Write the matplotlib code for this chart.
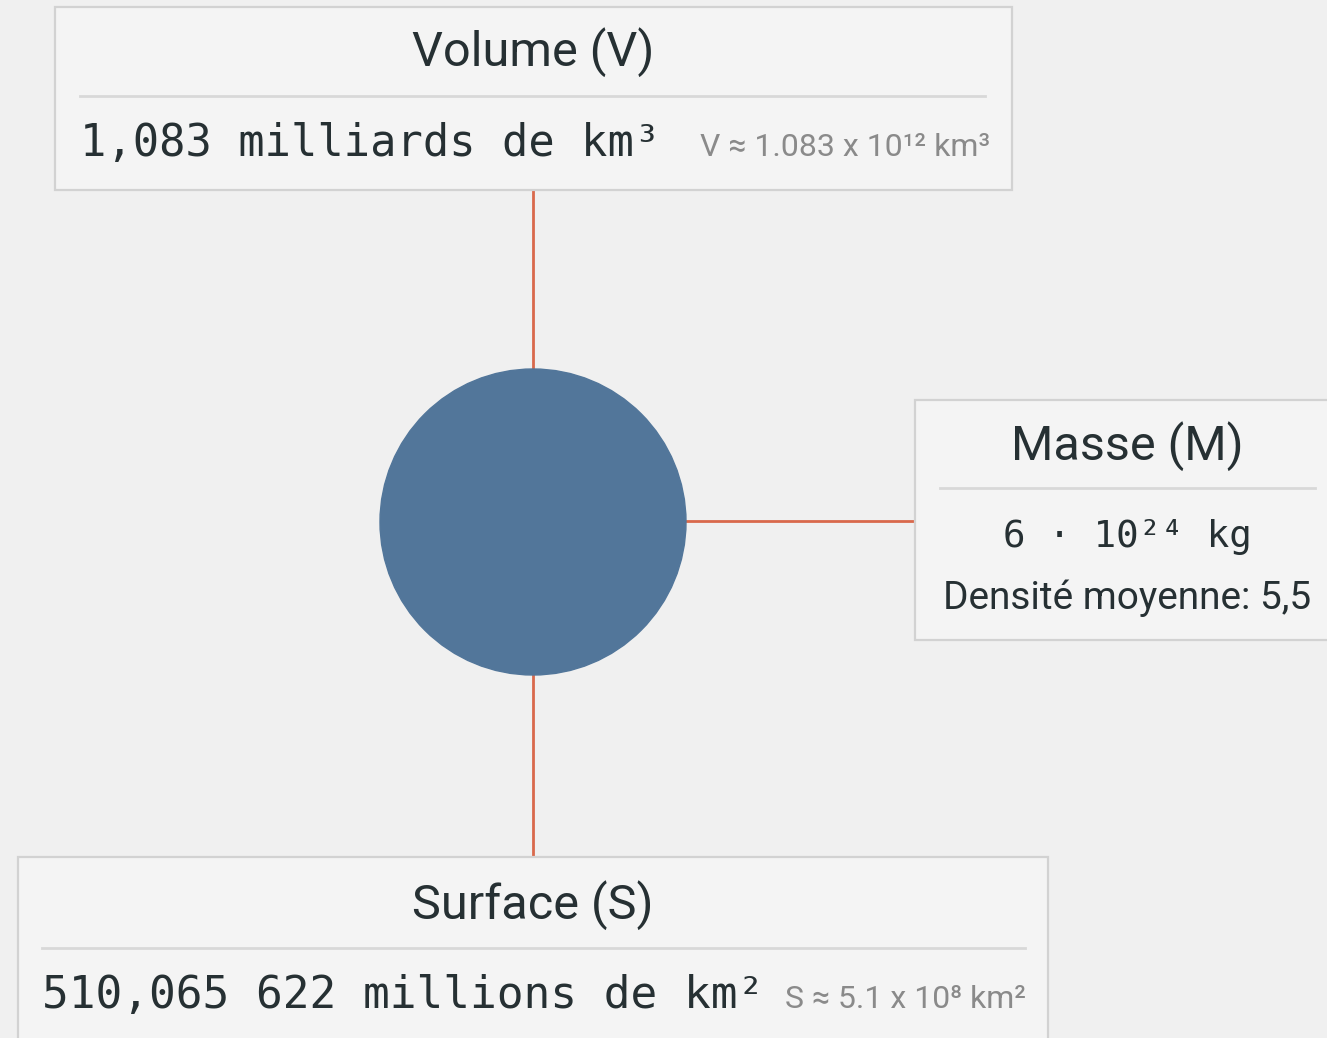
import matplotlib.pyplot as plt
from matplotlib.patches import Rectangle, Circle

# labels of the three boxes
titles = ['Volume (V)', 'Masse (M)', 'Surface (S)']
values = ['1,083 milliards de km³', '6 · 10²⁴ kg', '510,065 622 millions de km²']
notes = ['V ≈ 1.083 x 10¹² km³', 'Densité moyenne: 5,5', 'S ≈ 5.1 x 10⁸ km²']

W, H = 1327, 1038
bg = '#f0f0f0'
box_fc = '#f4f4f4'
box_ec = '#d2d2d2'
text_c = '#263033'
note_c = '#8a8a8a'
line_c = '#d9694c'
planet_c = '#52769a'
sans = ['Roboto', 'DejaVu Sans']
mono = ['DejaVu Sans Mono']

fig = plt.figure(figsize=(W / 100, H / 100), dpi=100, facecolor=bg)
ax = fig.add_axes([0, 0, 1, 1])
ax.set_xlim(0, W)
ax.set_ylim(H, 0)
ax.axis('off')

# connectors
ax.plot([533, 533], [190, 375], color=line_c, lw=2, zorder=1)
ax.plot([533, 533], [670, 857], color=line_c, lw=2, zorder=1)
ax.plot([680, 915], [521, 521], color=line_c, lw=2, zorder=1)

# planet
ax.add_patch(Circle((533, 522), 153, color=planet_c, zorder=2))

def box(x0, y0, x1, y1):
    ax.add_patch(Rectangle((x0, y0), x1 - x0, y1 - y0, facecolor=box_fc,
                           edgecolor=box_ec, lw=1.6, zorder=3))

# Volume box
box(55, 7, 1012, 190)
ax.text(533, 52, titles[0], ha='center', va='center', fontsize=35,
        family=sans, color=text_c, zorder=4)
ax.plot([80, 985], [96, 96], color='#d8d8d8', lw=2, zorder=4)
ax.text(80, 143, values[0], ha='left', va='center', fontsize=31.5,
        family=mono, color=text_c, zorder=4)
ax.text(700, 148, notes[0], ha='left', va='center', fontsize=23,
        family=sans, color=note_c, zorder=4)

# Masse box
box(915, 400, 1340, 640)
ax.text(1127, 446, titles[1], ha='center', va='center', fontsize=35,
        family=sans, color=text_c, zorder=4)
ax.plot([940, 1315], [488, 488], color='#d8d8d8', lw=2, zorder=4)
ax.text(1127, 537, values[1], ha='center', va='center', fontsize=27,
        family=mono, color=text_c, zorder=4)
ax.text(1127, 598, notes[1], ha='center', va='center', fontsize=28,
        family=sans, color=text_c, zorder=4)

# Surface box
box(18, 857, 1048, 1060)
ax.text(533, 905, titles[2], ha='center', va='center', fontsize=35,
        family=sans, color=text_c, zorder=4)
ax.plot([42, 1025], [948, 948], color='#d8d8d8', lw=2, zorder=4)
ax.text(42, 995, values[2], ha='left', va='center', fontsize=32,
        family=mono, color=text_c, zorder=4)
ax.text(785, 1000, notes[2], ha='left', va='center', fontsize=23,
        family=sans, color=note_c, zorder=4)

fig.savefig('out.png', dpi=100, facecolor=bg)
